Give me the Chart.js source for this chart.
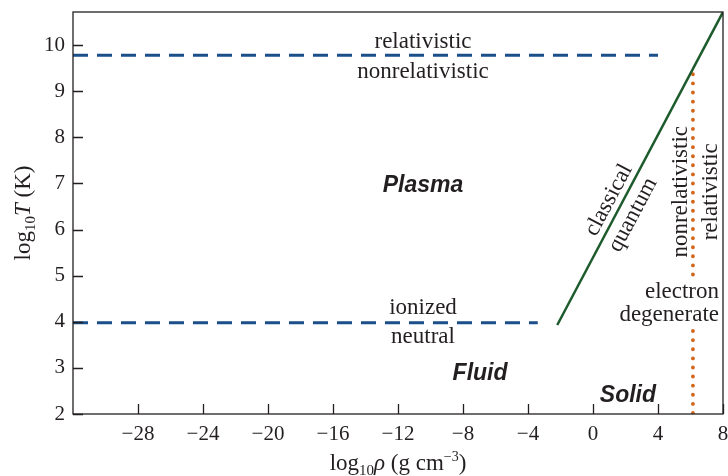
<!DOCTYPE html>
<html>
<head>
<meta charset="utf-8">
<script src="https://cdn.jsdelivr.net/npm/chart.js@4.4.1/dist/chart.umd.min.js"></script>
<style>
  body { margin: 0; background: #fff; }
  #wrap { width: 728px; height: 476px; }
</style>
</head>
<body>
<div id="wrap"><canvas id="phaseChart"></canvas></div>
<script>
// axis ticks
const xTicks = [-28, -24, -20, -16, -12, -8, -4, 0, 4, 8];
const yTicks = [2, 3, 4, 5, 6, 7, 8, 9, 10];

// boundary lines (log10 rho, log10 T)
const relX = [-32, 4];
const relT = [9.78, 9.78];
const ionX = [-32, -3.4];
const ionT = [3.98, 3.98];
const quantX = [-2.2, 8];
const quantT = [3.93, 10.72];
const degUpperX = [6.15, 6.15];
const degUpperT = [9.37, 5.0];
const degLowerX = [6.15, 6.15];
const degLowerT = [3.8, 2.0];

const ink = '#231f20';
const serif = '"Liberation Serif", "DejaVu Serif", serif';
const sans = '"Liberation Sans", Arial, sans-serif';

function pts(xs, ys) {
    return xs.map((x, i) => ({ x: x, y: ys[i] }));
}

function drawRuns(ctx, runs, x, y) {
    let total = 0;
    runs.forEach(r => { ctx.font = r.font; total += ctx.measureText(r.text).width; });
    let cx = x - total / 2;
    runs.forEach(r => {
        ctx.font = r.font;
        ctx.fillText(r.text, cx, y + (r.dy || 0));
        cx += ctx.measureText(r.text).width;
    });
}

// labels drawn in data coordinates
const labels = [
    { text: 'relativistic', x: -10.46, y: 10.07, font: '23px ' + serif },
    { text: 'nonrelativistic', x: -10.46, y: 9.42, font: '23px ' + serif },
    { text: 'ionized', x: -10.46, y: 4.3, font: '23px ' + serif },
    { text: 'neutral', x: -10.46, y: 3.67, font: '23px ' + serif },
    { text: 'Plasma', x: -10.46, y: 6.95, font: 'italic bold 23px ' + sans },
    { text: 'Fluid', x: -6.95, y: 2.87, font: 'italic bold 23px ' + sans },
    { text: 'Solid', x: 2.15, y: 2.39, font: 'italic bold 23px ' + sans }
];

const extras = {
    id: 'extras',
    afterDraw(chart) {
        const ctx = chart.ctx;
        const xs = chart.scales.x, ys = chart.scales.y;
        const a = chart.chartArea;
        ctx.save();
        ctx.strokeStyle = ink;
        ctx.fillStyle = ink;
        ctx.lineWidth = 1.3;
        ctx.strokeRect(a.left, a.top, a.right - a.left, a.bottom - a.top);
        // inward tick marks
        ctx.beginPath();
        xTicks.forEach(v => {
            const px = Math.round(xs.getPixelForValue(v)) + 0.5;
            ctx.moveTo(px, a.bottom); ctx.lineTo(px, a.bottom - 10);
        });
        yTicks.forEach(v => {
            const py = Math.round(ys.getPixelForValue(v)) + 0.5;
            ctx.moveTo(a.left, py); ctx.lineTo(a.left + 10, py);
        });
        ctx.stroke();

        ctx.textAlign = 'center';
        ctx.textBaseline = 'middle';
        labels.forEach(l => {
            ctx.font = l.font;
            ctx.fillText(l.text, xs.getPixelForValue(l.x), ys.getPixelForValue(l.y));
        });

        // rotated labels along the quantum line
        const p0x = xs.getPixelForValue(quantX[0]), p0y = ys.getPixelForValue(quantT[0]);
        const p1x = xs.getPixelForValue(quantX[1]), p1y = ys.getPixelForValue(quantT[1]);
        const ang = Math.atan2(p1y - p0y, p1x - p0x);
        ctx.font = '23px ' + serif;
        [['classical', 0.98, 6.64], ['quantum', 2.46, 6.32]].forEach(([t, x, y]) => {
            ctx.save();
            ctx.translate(xs.getPixelForValue(x), ys.getPixelForValue(y));
            ctx.rotate(ang);
            ctx.fillText(t, 0, 0);
            ctx.restore();
        });
        [['nonrelativistic', 5.42, 6.82], ['relativistic', 7.26, 6.82]].forEach(([t, x, y]) => {
            ctx.save();
            ctx.translate(xs.getPixelForValue(x), ys.getPixelForValue(y));
            ctx.rotate(-Math.PI / 2);
            ctx.fillText(t, 0, 0);
            ctx.restore();
        });
        ctx.textAlign = 'right';
        ctx.fillText('electron', a.right - 4, ys.getPixelForValue(4.65));
        ctx.fillText('degenerate', a.right - 4, ys.getPixelForValue(4.15));

        // axis titles
        ctx.textAlign = 'left';
        ctx.textBaseline = 'alphabetic';
        drawRuns(ctx, [
            { text: 'log', font: '23px ' + serif },
            { text: '10', font: '15px ' + serif, dy: 5 },
            { text: 'ρ', font: 'italic 23px ' + serif },
            { text: ' (g cm', font: '23px ' + serif },
            { text: '−3', font: '14px ' + serif, dy: -9 },
            { text: ')', font: '23px ' + serif }
        ], (a.left + a.right) / 2, 470);
        ctx.save();
        ctx.translate(30, (a.top + a.bottom) / 2);
        ctx.rotate(-Math.PI / 2);
        drawRuns(ctx, [
            { text: 'log', font: '23px ' + serif },
            { text: '10', font: '15px ' + serif, dy: 5 },
            { text: 'T', font: 'italic 23px ' + serif },
            { text: ' (K)', font: '23px ' + serif }
        ], 0, 0);
        ctx.restore();
        ctx.restore();
    }
};

new Chart(document.getElementById('phaseChart'), {
    type: 'scatter',
    data: {
        datasets: [
            { data: pts(relX, relT), borderColor: '#1b4f8a', borderWidth: 3, borderDash: [15, 9] },
            { data: pts(ionX, ionT), borderColor: '#1b4f8a', borderWidth: 3, borderDash: [15, 9] },
            { data: pts(quantX, quantT), borderColor: '#1d5a2c', borderWidth: 2.5 },
            { data: pts(degUpperX, degUpperT), borderColor: '#d2651a', borderWidth: 3.8, borderDash: [0.1, 9], borderCapStyle: 'round' },
            { data: pts(degLowerX, degLowerT), borderColor: '#d2651a', borderWidth: 3.8, borderDash: [0.1, 9], borderCapStyle: 'round' }
        ].map(d => Object.assign({ showLine: true, pointRadius: 0, fill: false }, d))
    },
    options: {
        responsive: true,
        maintainAspectRatio: false,
        animation: false,
        layout: { padding: { left: 0, right: 5, top: 12, bottom: 0 } },
        plugins: { legend: { display: false }, tooltip: { enabled: false } },
        scales: {
            x: {
                type: 'linear', min: -32, max: 8,
                grid: { display: false, drawTicks: false }, border: { display: false },
                afterBuildTicks: s => { s.ticks = xTicks.map(v => ({ value: v })); },
                afterFit: s => { s.height = 62; s.paddingLeft = 0; s.paddingRight = 0; },
                ticks: { color: ink, font: { family: serif, size: 21 }, padding: 8, maxRotation: 0,
                    callback: v => v < 0 ? '−' + Math.abs(v) : String(v) }
            },
            y: {
                type: 'linear', min: 2, max: 10.72,
                grid: { display: false, drawTicks: false }, border: { display: false },
                afterBuildTicks: s => { s.ticks = yTicks.map(v => ({ value: v })); },
                afterFit: s => { s.width = 73; s.paddingTop = 0; s.paddingBottom = 0; },
                ticks: { color: ink, font: { family: serif, size: 21 }, padding: 8 }
            }
        }
    },
    plugins: [extras]
});
</script>
</body>
</html>
